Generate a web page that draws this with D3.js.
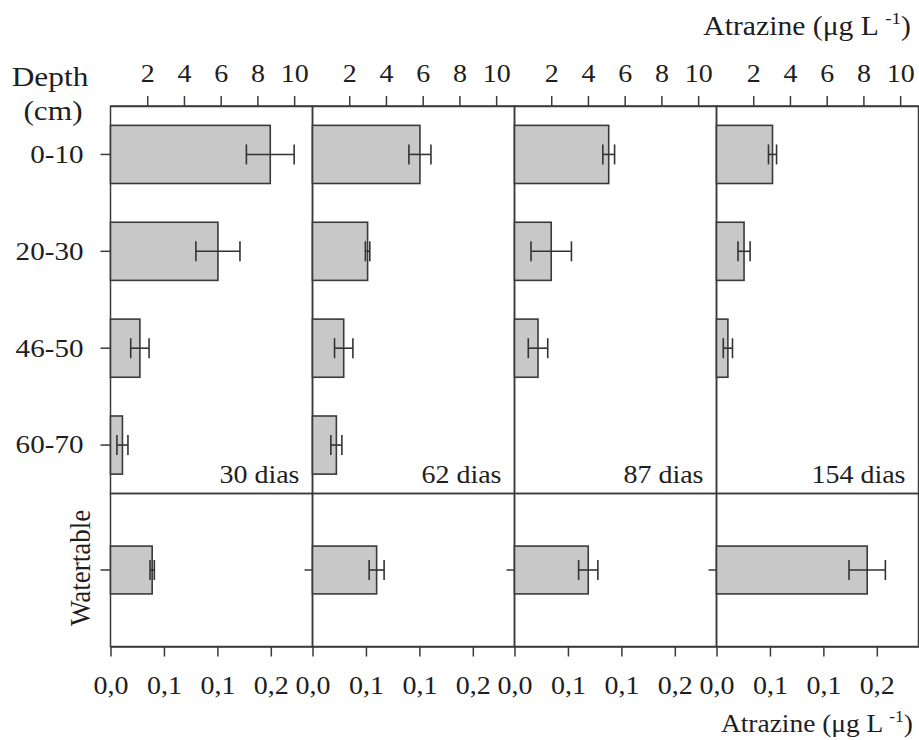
<!DOCTYPE html>
<html><head><meta charset="utf-8">
<script src="https://cdn.jsdelivr.net/npm/d3@7"></script>
<style>
body{margin:0;background:#fff} svg{display:block}
svg text{font-family:"Liberation Serif","Times New Roman",Times,"DejaVu Serif",serif;}
</style>
</head><body>
<svg id="chart" width="919" height="740"></svg>
<script>
// ---------------- data ----------------
const days = ["30 dias", "62 dias", "87 dias", "154 dias"];
const depths = ["0-10", "20-30", "46-50", "60-70"];
// soil solution atrazine (µg L-1), one array per sampling day, in depth order
const soil30 = [8.7, 5.85, 1.6, 0.65];
const soil62 = [5.85, 3.0, 1.7, 1.3];
const soil87 = [5.13, 2.0, 1.28, null];
const soil154 = [3.05, 1.5, 0.62, null];
const err30 = [1.3, 1.2, 0.5, 0.3];
const err62 = [0.6, 0.12, 0.5, 0.3];
const err87 = [0.32, 1.1, 0.53, null];
const err154 = [0.22, 0.33, 0.25, null];
const waterCategory = ["Watertable"];
const waterValues = [0.039, 0.06, 0.069, 0.141];
const waterErrors = [0.002, 0.007, 0.009, 0.017];
const topTickValues = [2, 4, 6, 8, 10];
const topTickLabels = ["2", "4", "6", "8", "10"];
const bottomTickValues = [0, 0.05, 0.10, 0.15];
const bottomTickLabels = ["0,0", "0,1", "0,1", "0,2"];

const soilValues = [soil30, soil62, soil87, soil154];
const soilErrors = [err30, err62, err87, err154];

// ---------------- layout ----------------
const S = 1.12;              // horizontal text stretch of the original picture
const INK = "#3a3a3a";
const TXT = "#1e1e1e";
const left = 110.5, right = 918.5, topY = 106, midY = 493.5, botY = 646.5;

const svg = d3.select("#chart");

const panel = d3.scaleBand().domain(days).range([left, right]).padding(0);
const bw = panel.bandwidth();
const xTop = d3.scaleLinear().domain([0, 11]).range([0, bw]);
const xBot = d3.scaleLinear().domain([0, 0.189]).range([0, bw]);
const yDepth = d3.scaleBand().domain(depths).range([topY, midY]).paddingInner(0.4).paddingOuter(0.2);
const yWater = d3.scaleBand().domain(waterCategory).range([midY, botY]).paddingInner(0).paddingOuter(1.1);

function stretchText(sel) {
  sel.each(function () {
    const x = +(this.getAttribute("x") || 0);
    this.setAttribute("x", x / S);
    this.setAttribute("transform", `scale(${S},1)`);
  });
}
function styleAxis(g, size) {
  g.attr("font-family", null);
  g.select(".domain").attr("stroke", INK).attr("stroke-width", 1.5);
  g.selectAll(".tick line").attr("stroke", INK).attr("stroke-width", 1.5);
  g.selectAll(".tick text").attr("font-size", size).attr("fill", TXT);
  stretchText(g.selectAll(".tick text"));
}
function addText(parent, x, y, str, size, anchor) {
  return parent.append("text")
    .attr("transform", `translate(${x},${y}) scale(${S},1)`)
    .attr("text-anchor", anchor)
    .attr("font-size", size).attr("fill", TXT)
    .text(str);
}

days.forEach((day, i) => {
  const g = svg.append("g").attr("transform", `translate(${panel(day)},0)`);

  // frames
  g.append("rect").attr("x", 0).attr("y", topY).attr("width", bw).attr("height", midY - topY)
    .attr("fill", "none").attr("stroke", INK).attr("stroke-width", 1.5);
  g.append("rect").attr("x", 0).attr("y", midY).attr("width", bw).attr("height", botY - midY)
    .attr("fill", "none").attr("stroke", INK).attr("stroke-width", 1.5);

  // soil bars
  const rows = depths.map((d, j) => ({ d, v: soilValues[i][j], e: soilErrors[i][j] })).filter(r => r.v != null);
  g.selectAll("rect.bar").data(rows).enter().append("rect").attr("class", "bar")
    .attr("x", xTop(0)).attr("y", r => yDepth(r.d))
    .attr("width", r => xTop(r.v) - xTop(0)).attr("height", yDepth.bandwidth())
    .attr("fill", "#c8c8c8").attr("stroke", INK).attr("stroke-width", 1.6);
  const eb = g.selectAll("g.err").data(rows).enter().append("g").attr("class", "err")
    .attr("transform", r => `translate(0,${yDepth(r.d) + yDepth.bandwidth() / 2})`)
    .attr("stroke", "#333").attr("stroke-width", 1.6);
  eb.append("line").attr("x1", r => xTop(r.v - r.e)).attr("x2", r => xTop(r.v + r.e)).attr("y1", 0).attr("y2", 0);
  eb.append("line").attr("x1", r => xTop(r.v - r.e)).attr("x2", r => xTop(r.v - r.e)).attr("y1", -10).attr("y2", 10);
  eb.append("line").attr("x1", r => xTop(r.v + r.e)).attr("x2", r => xTop(r.v + r.e)).attr("y1", -10).attr("y2", 10);

  // watertable bar
  const w = [{ d: waterCategory[0], v: waterValues[i], e: waterErrors[i] }];
  g.selectAll("rect.wbar").data(w).enter().append("rect").attr("class", "wbar")
    .attr("x", xBot(0)).attr("y", r => yWater(r.d))
    .attr("width", r => xBot(r.v) - xBot(0)).attr("height", yWater.bandwidth())
    .attr("fill", "#c8c8c8").attr("stroke", INK).attr("stroke-width", 1.6);
  const web = g.selectAll("g.werr").data(w).enter().append("g").attr("class", "werr")
    .attr("transform", r => `translate(0,${yWater(r.d) + yWater.bandwidth() / 2})`)
    .attr("stroke", "#333").attr("stroke-width", 1.6);
  web.append("line").attr("x1", r => xBot(r.v - r.e)).attr("x2", r => xBot(r.v + r.e));
  web.append("line").attr("x1", r => xBot(r.v - r.e)).attr("x2", r => xBot(r.v - r.e)).attr("y1", -10).attr("y2", 10);
  web.append("line").attr("x1", r => xBot(r.v + r.e)).attr("x2", r => xBot(r.v + r.e)).attr("y1", -10).attr("y2", 10);

  // top axis
  const ta = g.append("g").attr("transform", `translate(0,${topY})`)
    .call(d3.axisTop(xTop).tickValues(topTickValues).tickFormat((d, k) => topTickLabels[k])
      .tickSize(10).tickSizeOuter(0).tickPadding(14.5));
  styleAxis(ta, 25);

  // bottom axis
  const ba = g.append("g").attr("transform", `translate(0,${botY})`)
    .call(d3.axisBottom(xBot).tickValues(bottomTickValues).tickFormat((d, k) => bottomTickLabels[k])
      .tickSize(10).tickSizeOuter(0).tickPadding(19.5));
  styleAxis(ba, 25);

  // watertable tick
  const wa = g.append("g").call(d3.axisLeft(yWater).tickSize(i === 0 ? 10 : 8).tickFormat(""));
  wa.select(".domain").remove();
  styleAxis(wa, 25);

  // day label
  addText(g, bw - 13, 483, day, 25, "end");

  if (i === 0) {
    const da = g.append("g").call(d3.axisLeft(yDepth).tickSize(10).tickSizeOuter(0).tickPadding(17));
    da.select(".domain").remove();
    styleAxis(da, 26);
  }
});

// left titles
addText(svg, 50, 86, "Depth", 28, "middle");
addText(svg, 53, 120, "(cm)", 28, "middle");
svg.append("text")
  .attr("transform", `translate(90,568) scale(${S},1) rotate(-90)`)
  .attr("text-anchor", "middle").attr("font-size", 27).attr("fill", TXT)
  .text(waterCategory[0]);

// axis titles
function unitTitle(x, y, size) {
  const t = addText(svg, x, y, "", size, "end");
  t.append("tspan").text("Atrazine (μg L ");
  t.append("tspan").attr("font-size", size * 0.64).attr("dy", -size * 0.4).text("-1");
  t.append("tspan").attr("dy", size * 0.4).text(")");
}
unitTitle(911, 35, 26.5);
unitTitle(913, 731.5, 24.5);
</script>
</body></html>
